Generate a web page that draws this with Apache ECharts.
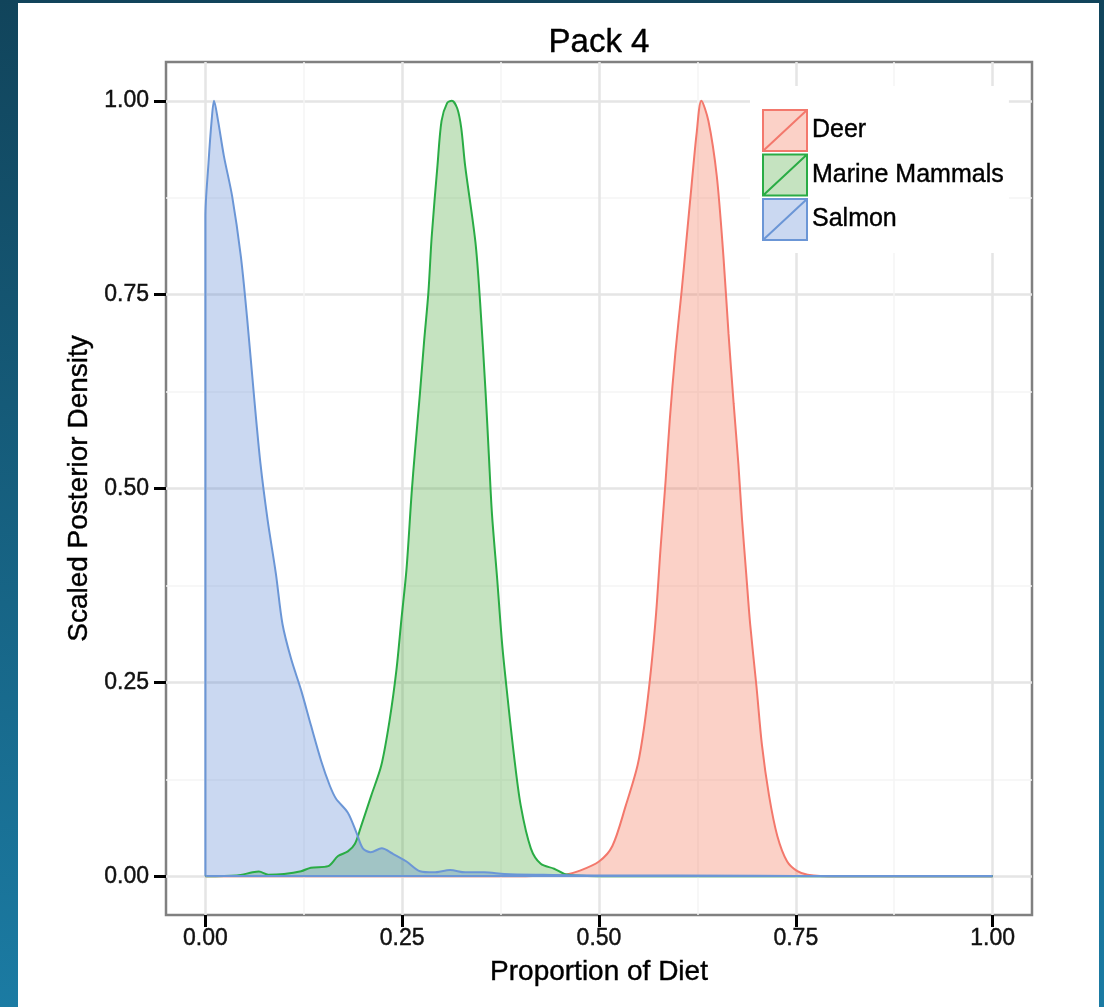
<!DOCTYPE html>
<html>
<head>
<meta charset="utf-8">
<title>Pack 4</title>
<script src="https://cdn.jsdelivr.net/npm/echarts@6/dist/echarts.min.js"></script>
<style>
  html, body { margin: 0; padding: 0; }
  body {
    width: 1104px; height: 1007px; overflow: hidden; position: relative;
    background: linear-gradient(to bottom, #11445b, #1b7ba3);
  }
  #panel { position: absolute; left: 18px; top: 3px; width: 1081px; height: 1004px; background: #fff; }
  #chart { position: absolute; left: 0; top: 0; width: 1104px; height: 1007px; }
</style>
</head>
<body>
<div id="panel"></div>
<div id="chart"></div>
<script>
const groups = ["Deer", "Marine Mammals", "Salmon"];
const tickValues = [0, 0.25, 0.5, 0.75, 1];
const minorValues = [0.125, 0.375, 0.625, 0.875];

// [proportion, scaled density]
const deer = [
  [0, 0], [0.4, 0], [0.44, 0.001], [0.457, 0.002], [0.474, 0.0065], [0.5, 0.019],
  [0.517, 0.039], [0.534, 0.091], [0.549, 0.143], [0.5577, 0.195], [0.566, 0.266],
  [0.5726, 0.34], [0.578, 0.42], [0.5846, 0.51], [0.59, 0.59], [0.597, 0.675],
  [0.605, 0.755], [0.611, 0.82], [0.6175, 0.89], [0.624, 0.958], [0.630, 1.0],
  [0.639, 0.974], [0.6496, 0.903], [0.658, 0.80], [0.6645, 0.70], [0.671, 0.61],
  [0.677, 0.532], [0.6816, 0.461], [0.687, 0.39], [0.692, 0.325], [0.70, 0.245],
  [0.707, 0.169], [0.716, 0.104], [0.7265, 0.052], [0.739, 0.019], [0.752, 0.0065],
  [0.765, 0.002], [0.8, 0], [1, 0]
];
const marine = [
  [0, 0], [0.04, 0.001], [0.06, 0.005], [0.068, 0.006], [0.08, 0.002], [0.1, 0.003],
  [0.1216, 0.0065], [0.134, 0.011], [0.156, 0.013], [0.1685, 0.026], [0.181, 0.032],
  [0.19, 0.042], [0.197, 0.062], [0.2107, 0.104], [0.2235, 0.143], [0.234, 0.201],
  [0.2427, 0.266], [0.249, 0.331], [0.2555, 0.396], [0.262, 0.494], [0.266, 0.545],
  [0.2726, 0.623], [0.2777, 0.688], [0.2833, 0.753], [0.2875, 0.825], [0.2948, 0.916],
  [0.300, 0.974], [0.307, 0.997], [0.313, 1.0], [0.32, 0.99], [0.325, 0.965],
  [0.330, 0.916], [0.343, 0.818], [0.349, 0.74], [0.356, 0.623], [0.360, 0.545],
  [0.364, 0.468], [0.3707, 0.383], [0.377, 0.299], [0.3835, 0.234], [0.392, 0.156],
  [0.4006, 0.091], [0.4134, 0.036], [0.426, 0.016], [0.443, 0.0097], [0.456, 0.003],
  [0.47, 0.001], [0.5, 0], [1, 0]
];
const salmon = [
  [0, 0], [0, 0.85], [0.004, 0.92], [0.008, 0.975], [0.011, 1.0], [0.016, 0.975],
  [0.0235, 0.929], [0.034, 0.877], [0.045, 0.80], [0.053, 0.72], [0.062, 0.617],
  [0.070, 0.532], [0.079, 0.46], [0.0896, 0.39], [0.098, 0.325], [0.109, 0.28],
  [0.1216, 0.24], [0.134, 0.195], [0.147, 0.149], [0.158, 0.117], [0.166, 0.10],
  [0.181, 0.082], [0.192, 0.056], [0.200, 0.036], [0.21, 0.031], [0.224, 0.036],
  [0.238, 0.029], [0.2555, 0.019], [0.2726, 0.0065], [0.29, 0.005], [0.311, 0.008],
  [0.33, 0.005], [0.354, 0.005], [0.38, 0.003], [0.42, 0.002], [0.5, 0.001],
  [0.6, 0.001], [0.8, 0], [1, 0]
];

const lineColors = ["#f3786c", "#2aac45", "#6b96d6"];
const fillColors = ["rgba(242,102,68,0.3)", "rgba(62,162,48,0.3)", "rgba(79,127,208,0.3)"];
const font = '"Liberation Sans", Arial, sans-serif';

const chart = echarts.init(document.getElementById("chart"));

// ggplot text looks heavier than plain canvas text, so add a hairline outline
const heavy = { textBorderColor: "#000", textBorderWidth: 0.4 };

function valueAxis(extra, labelMargin) {
  return Object.assign({
    type: "value", min: -0.05, max: 1.05,
    axisLine: { show: false, onZero: false },
    axisTick: { show: true, customValues: tickValues, length: 12, lineStyle: { color: "#000", width: 3 } },
    axisLabel: Object.assign({
      customValues: tickValues, formatter: (v) => v.toFixed(2), margin: labelMargin,
      fontSize: 23, fontFamily: font, color: "#111"
    }, heavy),
    splitLine: { show: true, lineStyle: { color: "#e5e5e5", width: 2.5 } },
    nameLocation: "middle",
    nameTextStyle: Object.assign({ fontSize: 28, fontFamily: font, color: "#000" }, heavy)
  }, extra);
}

function minorAxis(pos) {
  return {
    type: "value", min: -0.05, max: 1.05, position: pos,
    axisLine: { show: false, onZero: false },
    axisTick: { show: false, customValues: minorValues },
    axisLabel: { show: false },
    splitLine: { show: true, lineStyle: { color: "#f5f5f5", width: 1.5 } }
  };
}

const series = [deer, marine, salmon].map((data, i) => ({
  type: "line",
  name: groups[i],
  data: data,
  symbol: "none",
  smooth: 0.3,
  lineStyle: { color: lineColors[i], width: 2 },
  itemStyle: { color: lineColors[i] },
  areaStyle: { color: fillColors[i], opacity: 1 },
  markLine: {
    silent: true, symbol: "none", label: { show: false }, animation: false,
    lineStyle: { color: lineColors[i], width: 2, type: "solid" },
    data: [[{ coord: [0, 0] }, { coord: [1, 0] }]]
  }
}));

chart.setOption({
  animation: false,
  grid: {
    left: 166, top: 62, width: 866, height: 853,
    show: true, backgroundColor: "#fff", borderColor: "#808080", borderWidth: 2.5
  },
  xAxis: [
    valueAxis({ name: "Proportion of Diet", nameGap: 43 }, 12),
    minorAxis("top")
  ],
  yAxis: [
    valueAxis({ name: "Scaled Posterior Density", nameGap: 68 }, 17),
    minorAxis("right")
  ],
  legend: {
    orient: "vertical", left: 750, top: 86,
    padding: [23, 5, 12, 12],
    backgroundColor: "#fff",
    itemWidth: 44, itemHeight: 41, itemGap: 1.5,
    textStyle: Object.assign({ fontSize: 25, fontFamily: font, color: "#000" }, heavy),
    data: groups.map((name, i) => ({
      name: name,
      icon: "path://M0,0L44,0L44,41L0,41ZM0,41L44,0",
      itemStyle: { color: fillColors[i], borderColor: lineColors[i], borderWidth: 2 }
    }))
  },
  graphic: [{
    type: "text", x: 599, y: 43,
    style: Object.assign({
      text: "Pack 4", fontSize: 33, fontFamily: font, fill: "#000",
      stroke: "#000", lineWidth: 0.4,
      align: "center", verticalAlign: "middle"
    })
  }],
  series: series
});
</script>
</body>
</html>
